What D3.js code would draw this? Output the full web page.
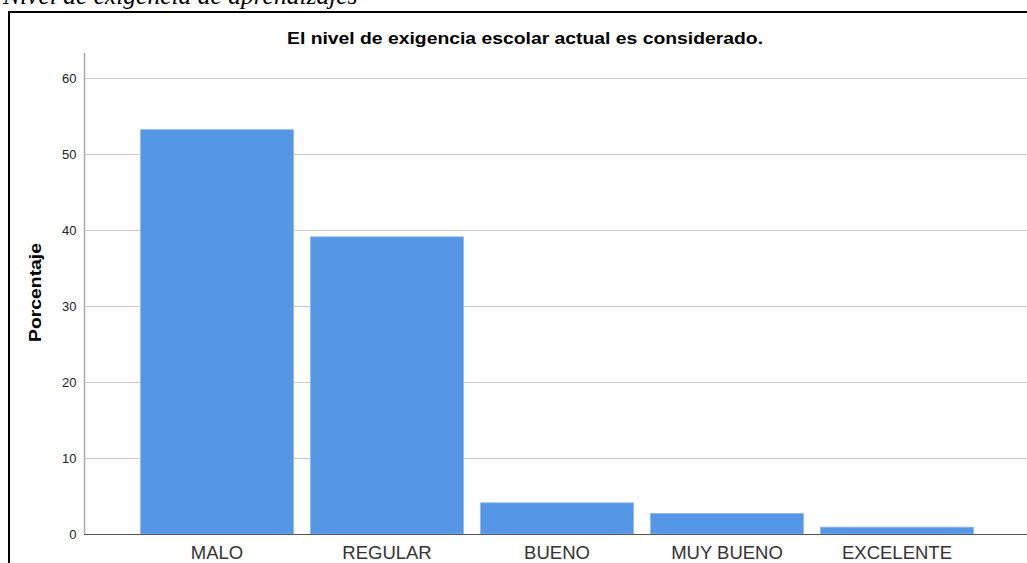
<!DOCTYPE html>
<html>
<head>
<meta charset="utf-8">
<script src="https://cdn.jsdelivr.net/npm/d3@7"></script>
<style>
  body { margin: 0; background: #fff; }
  svg { display: block; font-family: Arial, "Liberation Sans", sans-serif; }
</style>
</head>
<body>
<div id="chart"></div>
<script>
// CONSTANTS
const WIDTH = 1027;
const HEIGHT = 563;

// DATA
const categories = ["MALO", "REGULAR", "BUENO", "MUY BUENO", "EXCELENTE"];
const percentages = [53.2, 39.1, 4.1, 2.7, 0.9];
const yTicks = [0, 10, 20, 30, 40, 50, 60];
const chartTitle = "El nivel de exigencia escolar actual es considerado.";
const figureCaption = "Nivel de exigencia de aprendizajes";
const yLabel = "Porcentaje";

const svg = d3.select("#chart")
  .append("svg")
  .attr("width", WIDTH)
  .attr("height", HEIGHT);

// caption above frame (cut off at the top)
svg.append("text")
  .attr("x", 3)
  .attr("y", 4)
  .attr("font-family", "'Liberation Serif', 'Times New Roman', serif")
  .attr("font-style", "italic")
  .attr("font-size", 25.5)
  .attr("fill", "#000")
  .text(figureCaption);

// frame
svg.append("path")
  .attr("d", `M9,${HEIGHT + 2} L9,12 L${WIDTH + 2},12`)
  .attr("fill", "none")
  .attr("stroke", "#000")
  .attr("stroke-width", 2);

const x = d3.scaleBand()
  .domain(categories)
  .range([84, 1030])
  .paddingInner(0.1)
  .paddingOuter(0.3325);

const y = d3.scaleLinear()
  .domain([0, 60])
  .range([534, 78]);

// gridlines
svg.append("g")
  .selectAll("line")
  .data(yTicks.filter(d => d > 0))
  .enter()
  .append("line")
  .attr("x1", 84)
  .attr("x2", WIDTH)
  .attr("y1", d => y(d) + 0.5)
  .attr("y2", d => y(d) + 0.5)
  .attr("stroke", "#cccccc")
  .attr("stroke-width", 1.2);

// bars
svg.append("g")
  .selectAll("rect")
  .data(percentages)
  .enter()
  .append("rect")
  .attr("x", (d, i) => x(categories[i]))
  .attr("y", d => y(d))
  .attr("width", x.bandwidth())
  .attr("height", d => y(0) - y(d))
  .attr("fill", "#5596e6")
  .attr("stroke", "#8db8ee")
  .attr("stroke-width", 0.8);

// y axis
const yAxis = svg.append("g")
  .attr("transform", "translate(84.5,0)")
  .call(d3.axisLeft(y).tickValues(yTicks).tickSize(0).tickPadding(8));
yAxis.select(".domain").remove();
yAxis.append("line")
  .attr("x1", 0).attr("x2", 0)
  .attr("y1", 53).attr("y2", 534)
  .attr("stroke", "#aaaaaa")
  .attr("stroke-width", 1.5);
yAxis.selectAll("text")
  .attr("font-size", 13)
  .attr("fill", "#222")
  .attr("font-family", "Arial, 'Liberation Sans', sans-serif");

// x axis
const xAxis = svg.append("g")
  .attr("transform", "translate(0,534.5)")
  .call(d3.axisBottom(x).tickSize(0).tickPadding(11));
xAxis.select(".domain").remove();
xAxis.append("line")
  .attr("x1", 84).attr("x2", WIDTH)
  .attr("y1", 0).attr("y2", 0)
  .attr("stroke", "#555")
  .attr("stroke-width", 1.2);
xAxis.selectAll("text")
  .attr("font-size", 18.5)
  .attr("fill", "#333")
  .attr("font-family", "Arial, 'Liberation Sans', sans-serif");

// title
svg.append("text")
  .attr("x", 525)
  .attr("y", 43.5)
  .attr("text-anchor", "middle")
  .attr("font-size", 16.5)
  .attr("font-weight", "bold")
  .attr("fill", "#000")
  .attr("textLength", 476)
  .attr("lengthAdjust", "spacingAndGlyphs")
  .text(chartTitle);

// y label
svg.append("text")
  .attr("transform", "translate(41,292.5) rotate(-90)")
  .attr("text-anchor", "middle")
  .attr("font-size", 16)
  .attr("font-weight", "bold")
  .attr("fill", "#000")
  .attr("textLength", 99)
  .attr("lengthAdjust", "spacingAndGlyphs")
  .text(yLabel);
</script>
</body>
</html>
